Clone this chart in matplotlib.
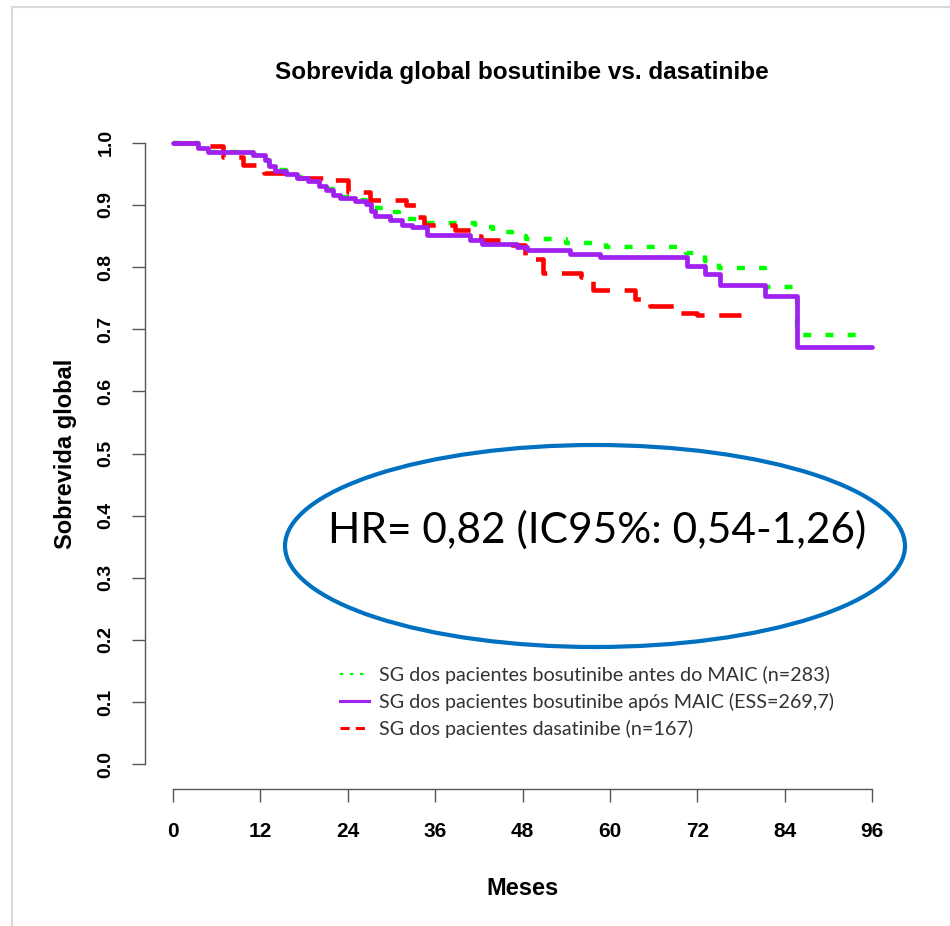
import matplotlib
matplotlib.use("Agg")
import matplotlib.pyplot as plt
from matplotlib.patches import Ellipse, Rectangle
from matplotlib.lines import Line2D

# ---- data ----
# Bosutinibe before MAIC (green dotted)
t_pre = [0, 3.4, 4.8, 11.0, 12.6, 13.2, 14.0, 15.5, 17.0, 18.5, 20.0, 21.0, 22.0, 23.0,
         25.0, 26.5, 27.5, 29.0, 31.0, 33.5, 41.5, 44.0, 46.5, 48.5, 54.0, 59.5, 70.5,
         73.0, 75.0, 81.3, 85.7, 95.0]
s_pre = [1.0, 0.993, 0.986, 0.981, 0.973, 0.964, 0.956, 0.951, 0.945, 0.939, 0.932, 0.925,
         0.918, 0.913, 0.908, 0.903, 0.895, 0.889, 0.878, 0.871, 0.864, 0.857, 0.850, 0.845,
         0.839, 0.832, 0.823, 0.810, 0.799, 0.768, 0.691, 0.691]

# Bosutinibe after MAIC (purple solid)
t_post = [0, 3.4, 4.8, 11.0, 12.6, 13.2, 14.0, 15.5, 17.0, 18.5, 20.0, 21.0, 22.0, 23.0,
          25.0, 26.5, 27.2, 27.8, 29.8, 31.5, 32.8, 34.9, 40.8, 42.4, 47.3, 48.6, 54.5,
          58.7, 70.6, 73.1, 75.1, 81.3, 85.7, 96.0]
s_post = [1.0, 0.992, 0.985, 0.980, 0.972, 0.963, 0.955, 0.950, 0.944, 0.938, 0.931, 0.924,
          0.916, 0.911, 0.906, 0.901, 0.890, 0.882, 0.876, 0.868, 0.864, 0.851, 0.843, 0.837,
          0.832, 0.827, 0.821, 0.816, 0.802, 0.789, 0.771, 0.754, 0.672, 0.672]

# Dasatinibe (red dashed)
t_das = [0, 4.0, 6.9, 9.6, 12.5, 16.0, 21.0, 24.0, 27.0, 32.0, 33.5, 34.5, 38.7, 41.5,
         42.3, 46.5, 48.3, 50.8, 56.0, 57.7, 63.5, 65.5, 69.3, 72.0, 78.0]
s_das = [1.0, 0.995, 0.977, 0.965, 0.952, 0.944, 0.940, 0.921, 0.908, 0.900, 0.881, 0.868,
         0.860, 0.850, 0.844, 0.836, 0.813, 0.791, 0.784, 0.763, 0.749, 0.737, 0.726, 0.723,
         0.723]

x_ticks = [0, 12, 24, 36, 48, 60, 72, 84, 96]
y_ticks = [0.0, 0.1, 0.2, 0.3, 0.4, 0.5, 0.6, 0.7, 0.8, 0.9, 1.0]

labels = ["SG dos pacientes bosutinibe antes do MAIC (n=283)",
          "SG dos pacientes bosutinibe após MAIC (ESS=269,7)",
          "SG dos pacientes dasatinibe (n=167)"]
title = "Sobrevida global bosutinibe vs. dasatinibe"
hr_text = "HR= 0,82 (IC95%: 0,54-1,26)"

GREEN = "#00FF00"
PURPLE = "#A020F0"
RED = "#FF0000"

sans = ["Liberation Sans", "DejaVu Sans"]

fig = plt.figure(figsize=(9.5, 9.26), dpi=100)
ax = fig.add_axes([145 / 950, 1 - 789 / 926, 755 / 950, (789 - 118) / 926])

ax.step(t_pre, s_pre, where="post", color=GREEN, lw=3.2,
        linestyle=(0, (1.8, 3.2)), dash_capstyle="butt")
ax.step(t_das, s_das, where="post", color=RED, lw=3.3,
        linestyle=(0, (5.5, 3.2)), dash_capstyle="butt")
ax.step(t_post, s_post, where="post", color=PURPLE, lw=3.4, solid_capstyle="round")

ax.set_xlim(-3.84, 99.84)
ax.set_ylim(-0.04, 1.04)
ax.set_xticks(x_ticks)
ax.set_yticks(y_ticks)
ax.set_xticklabels([str(v) for v in x_ticks], fontfamily=sans, fontweight="bold",
                   fontsize=15)
ax.set_yticklabels(["%.1f" % v for v in y_ticks], fontfamily=sans, fontweight="bold",
                   fontsize=14, rotation=90, va="center")
for s in ["top", "right"]:
    ax.spines[s].set_visible(False)
ax.spines["left"].set_bounds(0, 1)
ax.spines["bottom"].set_bounds(0, 96)
for s in ["left", "bottom"]:
    ax.spines[s].set_color("#555555")
    ax.spines[s].set_linewidth(1.0)
ax.tick_params(axis="both", length=9.5, width=1.0, color="#555555")
ax.tick_params(axis="x", pad=14)
ax.tick_params(axis="y", pad=12.5)

ax.set_xlabel("Meses", fontfamily=sans, fontweight="bold", fontsize=17, labelpad=26)
ax.set_ylabel("Sobrevida global", fontfamily=sans, fontweight="bold", fontsize=17,
              labelpad=15)

fig.text(522 / 950, 1 - 73 / 926, title, ha="center", va="center",
         fontfamily=sans, fontweight="bold", fontsize=17.5)

# legend
handles = [Line2D([], [], color=GREEN, lw=1.6, linestyle=(0, (1.5, 3))),
           Line2D([], [], color=PURPLE, lw=2.2),
           Line2D([], [], color=RED, lw=2.2, linestyle=(0, (3, 2)))]
leg = ax.legend(handles, labels, loc="upper left",
                bbox_to_anchor=(340 / 950, 1 - 666 / 926), bbox_transform=fig.transFigure,
                frameon=False, handlelength=1.45, handletextpad=0.55,
                labelspacing=0.45, borderpad=0, borderaxespad=0,
                prop={"family": "Lato", "size": 14.2})
for t in leg.get_texts():
    t.set_color("#333333")

# HR annotation with ellipse
ell = Ellipse((595 / 950, 1 - 546 / 926), 620 / 950, 202 / 926, transform=fig.transFigure,
              fill=False, edgecolor="#0070C0", lw=3.0)
fig.add_artist(ell)
fig.text(597 / 950, 1 - 530 / 926, hr_text, ha="center", va="center",
         fontfamily="Lato", fontsize=30.5, color="black")

# light frame of the picture
frame = Rectangle((12 / 950, -0.2), 1.5, 1.2 - 7 / 926, transform=fig.transFigure,
                  fill=False, edgecolor="#D9D9D9", lw=1.5)
fig.add_artist(frame)

fig.savefig("out.png", dpi=100)
